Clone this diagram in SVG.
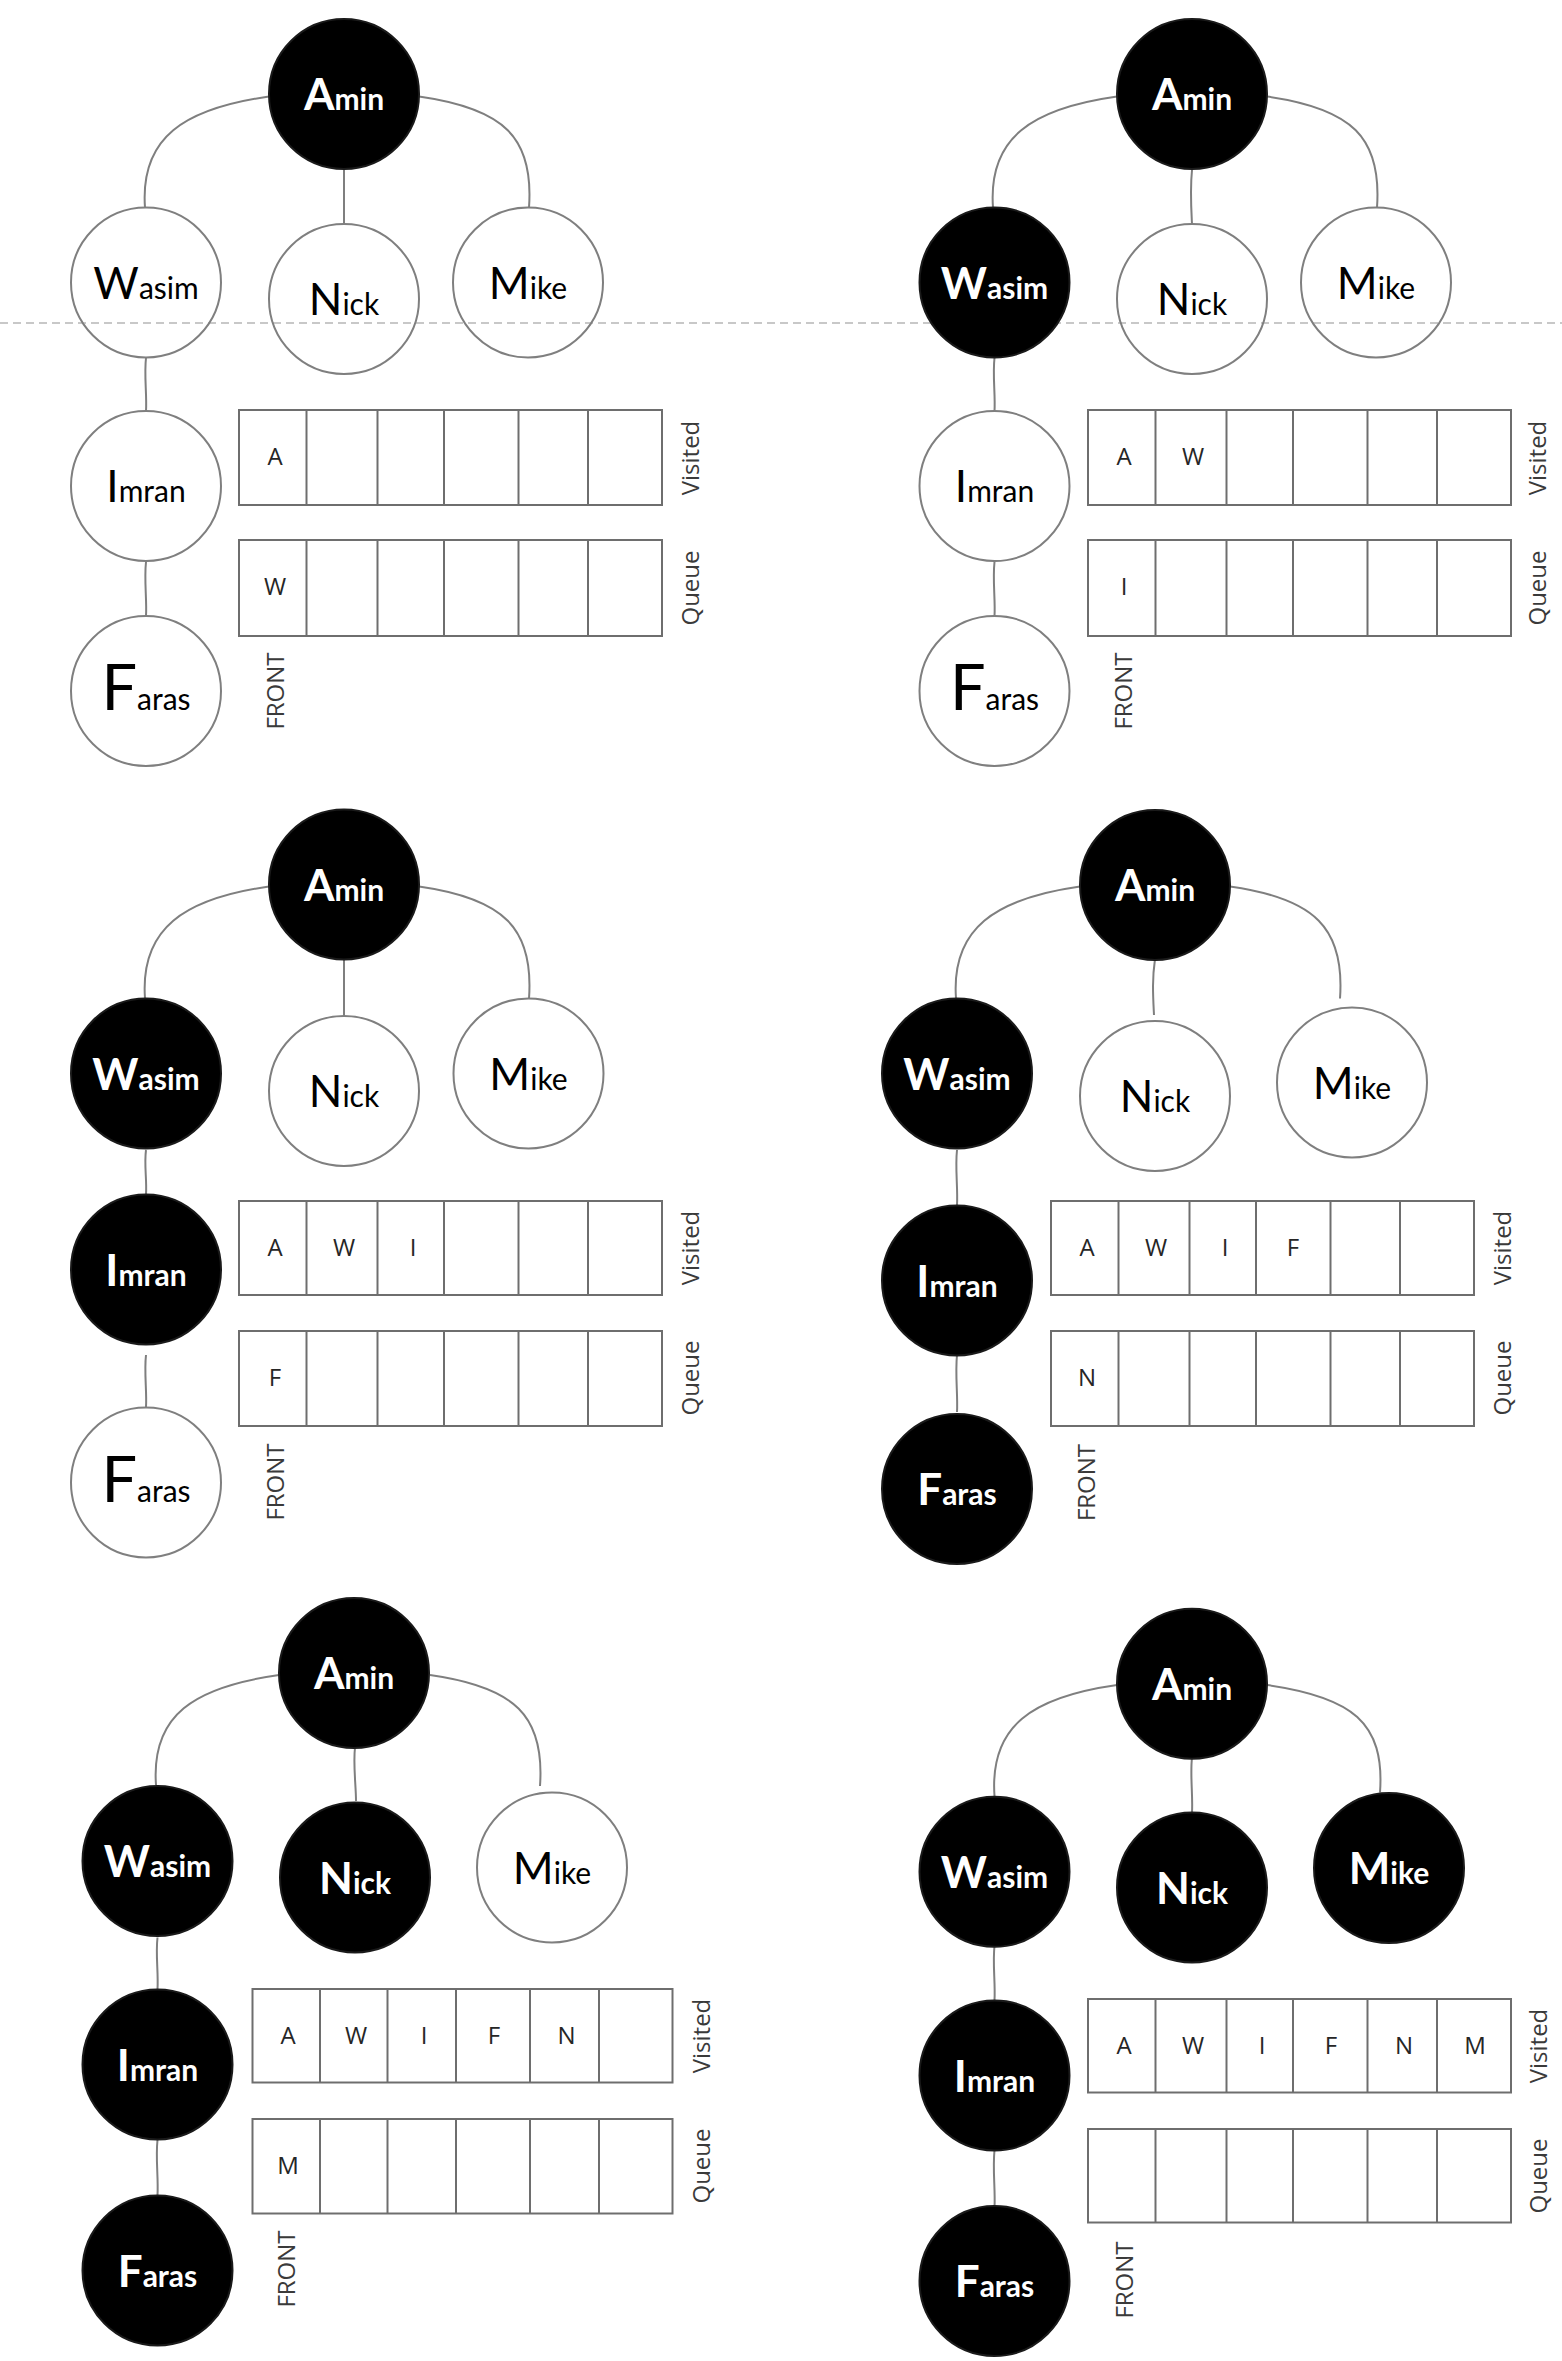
<svg xmlns="http://www.w3.org/2000/svg" width="1562" height="2361" viewBox="0 0 1562 2361">
<style>
.bg{fill:#fff}
.dash{stroke:#c8c8c8;stroke-width:2;stroke-dasharray:8 5;fill:none}
.edge{fill:none;stroke:#7f7f7f;stroke-width:2}
.w circle{fill:none;stroke:#7f7f7f;stroke-width:2}
.b circle{fill:#000;stroke:#1a1a1a;stroke-width:2}
.nl{font-family:Lato,"Open Sans",sans-serif;text-anchor:middle}
.w .nl{fill:#000}
.b .nl{fill:#fff;font-weight:bold}
.big{font-size:44px}
.huge{font-size:63px}
.sm{font-size:30px}
.box rect,.box line{fill:none;stroke:#6e6e6e;stroke-width:2}
.cell{font-family:"Open Sans","Noto Sans",sans-serif;font-size:24px;fill:#262626;text-anchor:middle}
.lab{font-family:"Open Sans","Noto Sans",sans-serif;font-size:24px;fill:#3a3a3a;text-anchor:middle;dominant-baseline:central}
</style>
<rect class="bg" x="0" y="0" width="1562" height="2361"/>
<line class="dash" x1="0" y1="323" x2="1562" y2="323"/>

<g id="connectors">
<path class="edge" d="M269 96.5 C184 108.5 140 137.5 145 207.5"/>
<path class="edge" d="M419 96.5 C504 108.5 534 137.5 529 207.5"/>
<path class="edge" d="M344 169 L344 224"/>
<path class="edge" d="M146 358 C144 375 147 395 146 411"/>
<path class="edge" d="M146 562 C144 580 147 600 146 616"/>

<path class="edge" d="M1117 96.5 C1032 108.5 988 137.5 993 207.5"/>
<path class="edge" d="M1267 96.5 C1352 108.5 1382 137.5 1377 207.5"/>
<path class="edge" d="M1192 170 C1190 190 1191 205 1192 224"/>
<path class="edge" d="M994.5 358 C992.5 375 995.5 395 994.5 411"/>
<path class="edge" d="M994.5 562 C992.5 580 995.5 600 994.5 616"/>

<path class="edge" d="M269 886.5 C184 898.5 140 928.5 145 998.5"/>
<path class="edge" d="M419 886.5 C504 898.5 534 928.5 529 998.5"/>
<path class="edge" d="M344 960 L344 1015"/>
<path class="edge" d="M146 1150 C144 1165 147 1180 146 1194"/>
<path class="edge" d="M146 1355 C144 1372 147 1392 146 1407"/>

<path class="edge" d="M1080 886.5 C995 898.5 951 928.5 956 998.5"/>
<path class="edge" d="M1230 886.5 C1315 898.5 1345 928.5 1340 998.5"/>
<path class="edge" d="M1155 959 C1152 980 1153 995 1154 1015"/>
<path class="edge" d="M957 1150 C955 1168 958 1188 957 1205"/>
<path class="edge" d="M957 1355 C955 1375 958 1395 957 1412"/>

<path class="edge" d="M279 1675 C194 1687 151 1715 156 1785"/>
<path class="edge" d="M430 1675 C515 1687 545 1716 540 1786"/>
<path class="edge" d="M355 1747.5 C353 1765 356 1785 356 1801"/>
<path class="edge" d="M157.5 1937.5 C155.5 1955 158.5 1972 157.5 1989"/>
<path class="edge" d="M157.5 2140 C155.5 2158 158.5 2178 157.5 2195"/>

<path class="edge" d="M1117 1685 C1032 1697 989.5 1726 994.5 1796"/>
<path class="edge" d="M1267 1685 C1352 1697 1385 1722.5 1380 1792.5"/>
<path class="edge" d="M1192 1757.5 C1190 1775 1193 1795 1192 1812"/>
<path class="edge" d="M994.5 1946 C992.5 1963 995.5 1983 994.5 2000"/>
<path class="edge" d="M994.5 2150 C992.5 2170 995.5 2190 994.5 2207"/>
</g>

<!-- Panel 1 -->
<g id="p1-amin" class="b"><circle cx="344" cy="94" r="75"/><text class="nl" x="344" y="110"><tspan class="big">A</tspan><tspan class="sm">min</tspan></text></g>
<g id="p1-wasim" class="w"><circle cx="146" cy="282.5" r="75"/><text class="nl" x="146" y="299"><tspan class="big">W</tspan><tspan class="sm">asim</tspan></text></g>
<g id="p1-nick" class="w"><circle cx="344" cy="299" r="75"/><text class="nl" x="344" y="315"><tspan class="big">N</tspan><tspan class="sm">ick</tspan></text></g>
<g id="p1-mike" class="w"><circle cx="528" cy="282.5" r="75"/><text class="nl" x="528" y="299"><tspan class="big">M</tspan><tspan class="sm">ike</tspan></text></g>
<g id="p1-imran" class="w"><circle cx="146" cy="486" r="75"/><text class="nl" x="146" y="502"><tspan class="big">I</tspan><tspan class="sm">mran</tspan></text></g>
<g id="p1-faras" class="w"><circle cx="146" cy="691" r="75"/><text class="nl" x="146" y="710"><tspan class="huge">F</tspan><tspan class="sm">aras</tspan></text></g>
<g id="p1-visited" class="box"><rect x="239" y="410" width="423" height="95"/><line x1="306.5" y1="410" x2="306.5" y2="505"/><line x1="377.5" y1="410" x2="377.5" y2="505"/><line x1="444" y1="410" x2="444" y2="505"/><line x1="518.5" y1="410" x2="518.5" y2="505"/><line x1="588" y1="410" x2="588" y2="505"/>
<text class="cell" x="275" y="465">A</text></g>
<g id="p1-queue" class="box"><rect x="239" y="540" width="423" height="96"/><line x1="306.5" y1="540" x2="306.5" y2="636"/><line x1="377.5" y1="540" x2="377.5" y2="636"/><line x1="444" y1="540" x2="444" y2="636"/><line x1="518.5" y1="540" x2="518.5" y2="636"/><line x1="588" y1="540" x2="588" y2="636"/>
<text class="cell" x="275" y="595">W</text></g>
<text class="lab" transform="translate(689 458) rotate(-90)">Visited</text>
<text class="lab" transform="translate(689 588) rotate(-90)">Queue</text>
<text class="lab" transform="translate(274 691) rotate(-90)">FRONT</text>

<!-- Panel 2 -->
<g id="p2-amin" class="b"><circle cx="1192" cy="94" r="75"/><text class="nl" x="1192" y="110"><tspan class="big">A</tspan><tspan class="sm">min</tspan></text></g>
<g id="p2-wasim" class="b"><circle cx="994.5" cy="282.5" r="75"/><text class="nl" x="994.5" y="299"><tspan class="big">W</tspan><tspan class="sm">asim</tspan></text></g>
<g id="p2-nick" class="w"><circle cx="1192" cy="299" r="75"/><text class="nl" x="1192" y="315"><tspan class="big">N</tspan><tspan class="sm">ick</tspan></text></g>
<g id="p2-mike" class="w"><circle cx="1376" cy="282.5" r="75"/><text class="nl" x="1376" y="299"><tspan class="big">M</tspan><tspan class="sm">ike</tspan></text></g>
<g id="p2-imran" class="w"><circle cx="994.5" cy="486" r="75"/><text class="nl" x="994.5" y="502"><tspan class="big">I</tspan><tspan class="sm">mran</tspan></text></g>
<g id="p2-faras" class="w"><circle cx="994.5" cy="691" r="75"/><text class="nl" x="994.5" y="710"><tspan class="huge">F</tspan><tspan class="sm">aras</tspan></text></g>
<g id="p2-visited" class="box"><rect x="1088" y="410" width="423" height="95"/><line x1="1155.5" y1="410" x2="1155.5" y2="505"/><line x1="1226.5" y1="410" x2="1226.5" y2="505"/><line x1="1293" y1="410" x2="1293" y2="505"/><line x1="1367.5" y1="410" x2="1367.5" y2="505"/><line x1="1437" y1="410" x2="1437" y2="505"/>
<text class="cell" x="1124" y="465">A</text><text class="cell" x="1193" y="465">W</text></g>
<g id="p2-queue" class="box"><rect x="1088" y="540" width="423" height="96"/><line x1="1155.5" y1="540" x2="1155.5" y2="636"/><line x1="1226.5" y1="540" x2="1226.5" y2="636"/><line x1="1293" y1="540" x2="1293" y2="636"/><line x1="1367.5" y1="540" x2="1367.5" y2="636"/><line x1="1437" y1="540" x2="1437" y2="636"/>
<text class="cell" x="1124" y="595">I</text></g>
<text class="lab" transform="translate(1536.5 458) rotate(-90)">Visited</text>
<text class="lab" transform="translate(1536.5 588) rotate(-90)">Queue</text>
<text class="lab" transform="translate(1122.5 691) rotate(-90)">FRONT</text>

<!-- Panel 3 -->
<g id="p3-amin" class="b"><circle cx="344" cy="884.5" r="75"/><text class="nl" x="344" y="900.5"><tspan class="big">A</tspan><tspan class="sm">min</tspan></text></g>
<g id="p3-wasim" class="b"><circle cx="146" cy="1073.5" r="75"/><text class="nl" x="146" y="1090"><tspan class="big">W</tspan><tspan class="sm">asim</tspan></text></g>
<g id="p3-nick" class="w"><circle cx="344" cy="1091" r="75"/><text class="nl" x="344" y="1107"><tspan class="big">N</tspan><tspan class="sm">ick</tspan></text></g>
<g id="p3-mike" class="w"><circle cx="528.5" cy="1073.5" r="75"/><text class="nl" x="528.5" y="1090"><tspan class="big">M</tspan><tspan class="sm">ike</tspan></text></g>
<g id="p3-imran" class="b"><circle cx="146" cy="1269.5" r="75"/><text class="nl" x="146" y="1286"><tspan class="big">I</tspan><tspan class="sm">mran</tspan></text></g>
<g id="p3-faras" class="w"><circle cx="146" cy="1482.5" r="75"/><text class="nl" x="146" y="1501.5"><tspan class="huge">F</tspan><tspan class="sm">aras</tspan></text></g>
<g id="p3-visited" class="box"><rect x="239" y="1201" width="423" height="94"/><line x1="306.5" y1="1201" x2="306.5" y2="1295"/><line x1="377.5" y1="1201" x2="377.5" y2="1295"/><line x1="444" y1="1201" x2="444" y2="1295"/><line x1="518.5" y1="1201" x2="518.5" y2="1295"/><line x1="588" y1="1201" x2="588" y2="1295"/>
<text class="cell" x="275" y="1256">A</text><text class="cell" x="344" y="1256">W</text><text class="cell" x="413" y="1256">I</text></g>
<g id="p3-queue" class="box"><rect x="239" y="1331" width="423" height="95"/><line x1="306.5" y1="1331" x2="306.5" y2="1426"/><line x1="377.5" y1="1331" x2="377.5" y2="1426"/><line x1="444" y1="1331" x2="444" y2="1426"/><line x1="518.5" y1="1331" x2="518.5" y2="1426"/><line x1="588" y1="1331" x2="588" y2="1426"/>
<text class="cell" x="275" y="1386">F</text></g>
<text class="lab" transform="translate(689 1248) rotate(-90)">Visited</text>
<text class="lab" transform="translate(689 1378) rotate(-90)">Queue</text>
<text class="lab" transform="translate(274 1482) rotate(-90)">FRONT</text>

<!-- Panel 4 -->
<g id="p4-amin" class="b"><circle cx="1155" cy="885" r="75"/><text class="nl" x="1155" y="901"><tspan class="big">A</tspan><tspan class="sm">min</tspan></text></g>
<g id="p4-wasim" class="b"><circle cx="957" cy="1073.5" r="75"/><text class="nl" x="957" y="1090"><tspan class="big">W</tspan><tspan class="sm">asim</tspan></text></g>
<g id="p4-nick" class="w"><circle cx="1155" cy="1096" r="75"/><text class="nl" x="1155" y="1112"><tspan class="big">N</tspan><tspan class="sm">ick</tspan></text></g>
<g id="p4-mike" class="w"><circle cx="1352" cy="1082.5" r="75"/><text class="nl" x="1352" y="1099"><tspan class="big">M</tspan><tspan class="sm">ike</tspan></text></g>
<g id="p4-imran" class="b"><circle cx="957" cy="1280.5" r="75"/><text class="nl" x="957" y="1297"><tspan class="big">I</tspan><tspan class="sm">mran</tspan></text></g>
<g id="p4-faras" class="b"><circle cx="957" cy="1489" r="75"/><text class="nl" x="957" y="1505"><tspan class="big">F</tspan><tspan class="sm">aras</tspan></text></g>
<g id="p4-visited" class="box"><rect x="1051" y="1201" width="423" height="94"/><line x1="1118.5" y1="1201" x2="1118.5" y2="1295"/><line x1="1189.5" y1="1201" x2="1189.5" y2="1295"/><line x1="1256" y1="1201" x2="1256" y2="1295"/><line x1="1330.5" y1="1201" x2="1330.5" y2="1295"/><line x1="1400" y1="1201" x2="1400" y2="1295"/>
<text class="cell" x="1087" y="1256">A</text><text class="cell" x="1156" y="1256">W</text><text class="cell" x="1225" y="1256">I</text><text class="cell" x="1293" y="1256">F</text></g>
<g id="p4-queue" class="box"><rect x="1051" y="1331" width="423" height="95"/><line x1="1118.5" y1="1331" x2="1118.5" y2="1426"/><line x1="1189.5" y1="1331" x2="1189.5" y2="1426"/><line x1="1256" y1="1331" x2="1256" y2="1426"/><line x1="1330.5" y1="1331" x2="1330.5" y2="1426"/><line x1="1400" y1="1331" x2="1400" y2="1426"/>
<text class="cell" x="1087" y="1386">N</text></g>
<text class="lab" transform="translate(1501 1248) rotate(-90)">Visited</text>
<text class="lab" transform="translate(1501 1378) rotate(-90)">Queue</text>
<text class="lab" transform="translate(1085 1482.5) rotate(-90)">FRONT</text>

<!-- Panel 5 -->
<g id="p5-amin" class="b"><circle cx="354" cy="1673" r="75"/><text class="nl" x="354" y="1689"><tspan class="big">A</tspan><tspan class="sm">min</tspan></text></g>
<g id="p5-wasim" class="b"><circle cx="157.5" cy="1861" r="75"/><text class="nl" x="157.5" y="1877"><tspan class="big">W</tspan><tspan class="sm">asim</tspan></text></g>
<g id="p5-nick" class="b"><circle cx="355" cy="1877.5" r="75"/><text class="nl" x="355" y="1894"><tspan class="big">N</tspan><tspan class="sm">ick</tspan></text></g>
<g id="p5-mike" class="w"><circle cx="552" cy="1867.5" r="75"/><text class="nl" x="552" y="1884"><tspan class="big">M</tspan><tspan class="sm">ike</tspan></text></g>
<g id="p5-imran" class="b"><circle cx="157.5" cy="2064.5" r="75"/><text class="nl" x="157.5" y="2081"><tspan class="big">I</tspan><tspan class="sm">mran</tspan></text></g>
<g id="p5-faras" class="b"><circle cx="157.5" cy="2270.5" r="75"/><text class="nl" x="157.5" y="2287"><tspan class="big">F</tspan><tspan class="sm">aras</tspan></text></g>
<g id="p5-visited" class="box"><rect x="252.5" y="1989" width="420" height="93.5"/><line x1="320" y1="1989" x2="320" y2="2082.5"/><line x1="387.5" y1="1989" x2="387.5" y2="2082.5"/><line x1="456" y1="1989" x2="456" y2="2082.5"/><line x1="530" y1="1989" x2="530" y2="2082.5"/><line x1="599" y1="1989" x2="599" y2="2082.5"/>
<text class="cell" x="288" y="2044">A</text><text class="cell" x="356" y="2044">W</text><text class="cell" x="424" y="2044">I</text><text class="cell" x="494" y="2044">F</text><text class="cell" x="566.5" y="2044">N</text></g>
<g id="p5-queue" class="box"><rect x="252.5" y="2119" width="420" height="94.5"/><line x1="320" y1="2119" x2="320" y2="2213.5"/><line x1="387.5" y1="2119" x2="387.5" y2="2213.5"/><line x1="456" y1="2119" x2="456" y2="2213.5"/><line x1="530" y1="2119" x2="530" y2="2213.5"/><line x1="599" y1="2119" x2="599" y2="2213.5"/>
<text class="cell" x="288" y="2174">M</text></g>
<text class="lab" transform="translate(700 2036) rotate(-90)">Visited</text>
<text class="lab" transform="translate(700 2166) rotate(-90)">Queue</text>
<text class="lab" transform="translate(285 2269) rotate(-90)">FRONT</text>

<!-- Panel 6 -->
<g id="p6-amin" class="b"><circle cx="1192" cy="1683.75" r="75"/><text class="nl" x="1192" y="1700"><tspan class="big">A</tspan><tspan class="sm">min</tspan></text></g>
<g id="p6-wasim" class="b"><circle cx="994.5" cy="1871.75" r="75"/><text class="nl" x="994.5" y="1888"><tspan class="big">W</tspan><tspan class="sm">asim</tspan></text></g>
<g id="p6-nick" class="b"><circle cx="1192" cy="1887.5" r="75"/><text class="nl" x="1192" y="1904"><tspan class="big">N</tspan><tspan class="sm">ick</tspan></text></g>
<g id="p6-mike" class="b"><circle cx="1389" cy="1868" r="75"/><text class="nl" x="1389" y="1884"><tspan class="big">M</tspan><tspan class="sm">ike</tspan></text></g>
<g id="p6-imran" class="b"><circle cx="994.5" cy="2075.5" r="75"/><text class="nl" x="994.5" y="2092"><tspan class="big">I</tspan><tspan class="sm">mran</tspan></text></g>
<g id="p6-faras" class="b"><circle cx="994.5" cy="2281" r="75"/><text class="nl" x="994.5" y="2297"><tspan class="big">F</tspan><tspan class="sm">aras</tspan></text></g>
<g id="p6-visited" class="box"><rect x="1088" y="1999" width="423" height="93.5"/><line x1="1155.5" y1="1999" x2="1155.5" y2="2092.5"/><line x1="1226.5" y1="1999" x2="1226.5" y2="2092.5"/><line x1="1293" y1="1999" x2="1293" y2="2092.5"/><line x1="1367.5" y1="1999" x2="1367.5" y2="2092.5"/><line x1="1437" y1="1999" x2="1437" y2="2092.5"/>
<text class="cell" x="1124" y="2054">A</text><text class="cell" x="1193" y="2054">W</text><text class="cell" x="1262" y="2054">I</text><text class="cell" x="1331" y="2054">F</text><text class="cell" x="1404" y="2054">N</text><text class="cell" x="1475" y="2054">M</text></g>
<g id="p6-queue" class="box"><rect x="1088" y="2129" width="423" height="93.5"/><line x1="1155.5" y1="2129" x2="1155.5" y2="2222.5"/><line x1="1226.5" y1="2129" x2="1226.5" y2="2222.5"/><line x1="1293" y1="2129" x2="1293" y2="2222.5"/><line x1="1367.5" y1="2129" x2="1367.5" y2="2222.5"/><line x1="1437" y1="2129" x2="1437" y2="2222.5"/></g>
<text class="lab" transform="translate(1537 2046) rotate(-90)">Visited</text>
<text class="lab" transform="translate(1537 2176) rotate(-90)">Queue</text>
<text class="lab" transform="translate(1123.5 2280) rotate(-90)">FRONT</text>
</svg>
